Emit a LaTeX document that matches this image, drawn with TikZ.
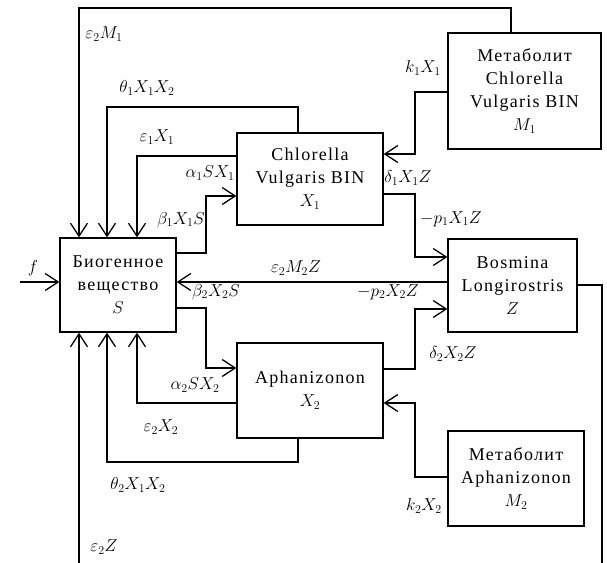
\documentclass[tikz,border=0pt]{standalone}
\usepackage{fontspec}
\setmainfont{Liberation Serif}
\newfontfamily\boxfont{Liberation Serif}[LetterSpace=7.0]
\usetikzlibrary{arrows.meta}
\begin{document}
\begin{tikzpicture}[x=1pt,y=-1pt,
  box/.style={draw, line width=1.3pt, align=center, inner sep=0pt,
    font=\boxfont\fontsize{18}{23}\selectfont},
  conn/.style={line width=1.3pt},
  arr/.style={conn, -{Straight Barb[length=13pt,width=17pt]}},
  lbl/.style={font=\fontsize{16.5}{19}\selectfont, inner sep=0pt}]
\useasboundingbox (0,0) rectangle (607,562);
% boxes
\node[box, minimum width=116pt, minimum height=94pt] (S) at (118,285) {Биогенное\\вещество\\$S$};
\node[box, minimum width=146pt, minimum height=92pt] (X1) at (310,179) {Chlorella\\Vulgaris BIN\\$X_1$};
\node[box, minimum width=153pt, minimum height=116pt] (M1) at (524.5,91) {Метаболит\\Chlorella\\Vulgaris BIN\\$M_1$};
\node[box, minimum width=129pt, minimum height=93pt] (Z) at (512.5,285.5) {Bosmina\\Longirostris\\$Z$};
\node[box, minimum width=146pt, minimum height=95pt] (X2) at (310,390.5) {Aphanizonon\\$X_2$};
\node[box, minimum width=136pt, minimum height=95pt] (M2) at (516,478.5) {Метаболит\\Aphanizonon\\$M_2$};
\coordinate (fin) at (20,282);
% connectors above S
\draw[arr] (511,0 |- M1.north) -- (511,8) -| (79,0 |- S.north);
\draw[arr] (298,0 |- X1.north) -- (298,107) -| (107,0 |- S.north);
\draw[arr] (X1.west |- 0,156) -| (137,0 |- S.north);
\draw[arr] (S.east |- 0,253) -- (206,253) -- (206,196) -- (X1.west |- 0,196);
% middle
\draw[arr] (Z.west |- 0,282) -- (S.east |- 0,282);
\draw[arr] (fin) -- (S.west |- 0,282);
\draw[arr] (S.east |- 0,308) -- (206,308) -- (206,368) -- (X2.west |- 0,368);
% below S
\draw[arr] (X2.west |- 0,403) -| (137,0 |- S.south);
\draw[arr] (298,0 |- X2.south) -- (298,462) -| (107,0 |- S.south);
\draw[arr] (Z.east |- 0,285) -- (602,285) -- (602,566) -- (79,566) -- (79,0 |- S.south);
% right side
\draw[arr] (X1.east |- 0,194) -- (415,194) -- (415,257) -- (Z.west |- 0,257);
\draw[arr] (M1.west |- 0,92) -- (415,92) -- (415,154) -- (X1.east |- 0,154);
\draw[arr] (X2.east |- 0,369) -- (415,369) -- (415,309) -- (Z.west |- 0,309);
\draw[arr] (M2.west |- 0,477) -- (415,477) -- (415,403) -- (X2.east |- 0,403);
% labels
\node[lbl] (l1) at (104,34) {$\varepsilon_2M_1$};
\node[lbl] (l2) at (147,88) {$\theta_1X_1X_2$};
\node[lbl] (l3) at (157,137) {$\varepsilon_1X_1$};
\node[lbl] (l4) at (210,173) {$\alpha_1SX_1$};
\node[lbl] (l5) at (181,220) {$\beta_1X_1S$};
\node[lbl] (l6) at (296,268) {$\varepsilon_2M_2Z$};
\node[lbl] (l7) at (216,292) {$\beta_2X_2S$};
\node[lbl] (l8) at (451,219) {$-p_1X_1Z$};
\node[lbl] (l9) at (408,178) {$\delta_1X_1Z$};
\node[lbl] (l10) at (423,68) {$k_1X_1$};
\node[lbl] (l11) at (388,292) {$-p_2X_2Z$};
\node[lbl] (l12) at (453,354) {$\delta_2X_2Z$};
\node[lbl] (l13) at (195,385) {$\alpha_2SX_2$};
\node[lbl] (l14) at (161,427) {$\varepsilon_2X_2$};
\node[lbl] (l15) at (138,485) {$\theta_2X_1X_2$};
\node[lbl] (l16) at (104,547) {$\varepsilon_2Z$};
\node[lbl] (l17) at (424,506) {$k_2X_2$};
\node[lbl] (l18) at (33,268) {$f$};
\end{tikzpicture}
\end{document}
